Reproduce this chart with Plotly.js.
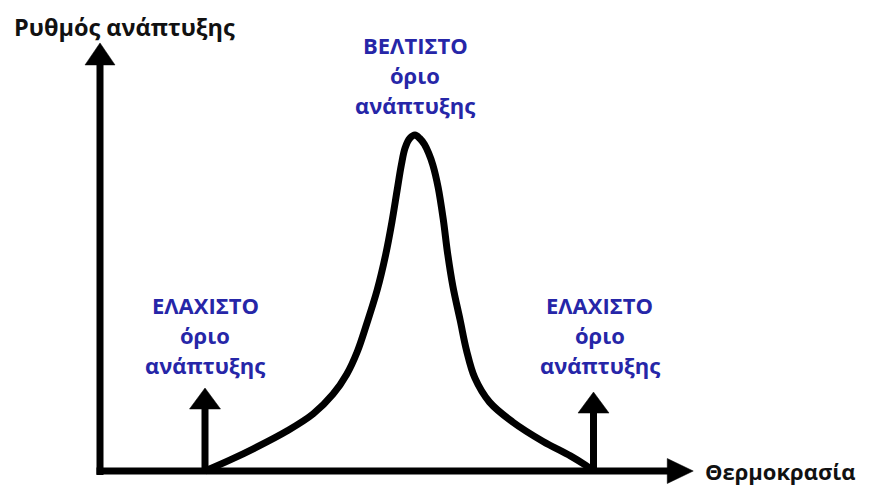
<!DOCTYPE html>
<html>
<head>
<meta charset="utf-8">
<script src="https://cdn.plot.ly/plotly-3.0.1.min.js"></script>
<style>html,body{margin:0;padding:0;background:#fff}</style>
</head>
<body>
<div id="chart" style="width:877px;height:485px"></div>
<script>
// Schematic growth-rate curve versus temperature
const temperature = [10, 12.4, 14.6, 17.8, 20.3, 22.2, 23.5, 24.5, 25.4, 26.4, 27.2, 27.8, 28.3, 28.7, 29.05, 29.5, 30,
                     30.45, 30.9, 31.3, 31.7, 32.2, 32.7, 33.1, 33.6, 34.3, 34.9, 35.7, 37.1, 39.3, 42.2, 44.8, 46.2, 47];
const growthRate  = [0, 3.3, 6.6, 11.9, 17.0, 22.9, 28.8, 35.5, 43.8, 53.9, 64.3, 74.1, 83.6, 91.1, 96.1, 99.0, 100,
                     99.0, 97.2, 94.6, 91.1, 84.5, 74.7, 64.9, 55.1, 44.9, 36.0, 27.7, 20.5, 14.6, 8.8, 4.5, 1.8, 0];

// Cardinal temperatures: minimum, optimum, maximum
const limitTemps  = [10, 30, 47];
const limitTitles = ['ΕΛΑΧΙΣΤΟ', 'ΒΕΛΤΙΣΤΟ', 'ΕΛΑΧΙΣΤΟ'];
const limitSub    = ['όριο', 'ανάπτυξης'];

const xTitle = 'Θερμοκρασία';
const yTitle = 'Ρυθμός ανάπτυξης';

// axis extents (arrow tips) in data units
const xAxisTip = 56.5;
const yAxisTip = 127.4;
// arrow tips above the minimum and maximum limits
const limitArrowTips = [24.7, null, 23.5];

// ---- layout scale (pixels per data unit, origin position) ----
const W = 877, H = 485;
const originPx = [100, 471];
const pxX = 10.5, pxY = 3.36;
const xRange = [-originPx[0] / pxX, (W - originPx[0]) / pxX];
const yRange = [(originPx[1] - H) / pxY, originPx[1] / pxY];

const BLACK = '#000000';
const BLUE = '#2626a8';
const LW = 7;

function shaft(x0, y0, x1, y1) {
  return {x: [x0, x1], y: [y0, y1], mode: 'lines', type: 'scatter',
          line: {color: BLACK, width: LW}, hoverinfo: 'skip'};
}
// filled triangular arrowhead; length and width given in pixels
function head(tx, ty, dir, lenPx, widPx) {
  let xs, ys;
  if (dir === 'up') {
    const by = ty - lenPx / pxY, hw = widPx / 2 / pxX;
    xs = [tx - hw, tx + hw, tx, tx - hw]; ys = [by, by, ty, by];
  } else {
    const bx = tx - lenPx / pxX, hw = widPx / 2 / pxY;
    xs = [bx, bx, tx, bx]; ys = [ty - hw, ty + hw, ty, ty - hw];
  }
  return {x: xs, y: ys, mode: 'lines', type: 'scatter', fill: 'toself',
          fillcolor: BLACK, line: {color: BLACK, width: 0.5}, hoverinfo: 'skip'};
}

const traces = [];
// axes
traces.push(shaft(0, -4 / pxY, 0, yAxisTip - 20 / pxY));
traces.push(head(0, yAxisTip, 'up', 22, 30));
traces.push(shaft(-3.5 / pxX, 0, xAxisTip - 24 / pxX, 0));
traces.push(head(xAxisTip, 0, 'right', 26, 25));
// arrows at the minimum and maximum limits
[0, 2].forEach(i => {
  traces.push(shaft(limitTemps[i], 0, limitTemps[i], limitArrowTips[i] - 18 / pxY));
  traces.push(head(limitTemps[i], limitArrowTips[i], 'up', 21, 31));
});
// growth curve
traces.push({x: temperature, y: growthRate, mode: 'lines', type: 'scatter',
             line: {color: BLACK, width: LW, shape: 'spline', smoothing: 1},
             hoverinfo: 'skip'});

const annotations = [];
const labelFont = {family: 'Open Sans, Noto Sans, sans-serif', size: 22, color: BLUE};
function label(x, yTop, lines) {
  lines.forEach((t, k) => {
    annotations.push({x: x, y: yTop - k * 30 / pxY, xref: 'x', yref: 'y',
                      text: '<b>' + t + '</b>', showarrow: false,
                      xanchor: 'center', yanchor: 'middle', font: labelFont});
  });
}
label(limitTemps[0], (originPx[1] - 305) / pxY, [limitTitles[0]].concat(limitSub));
label(limitTemps[1], (originPx[1] - 45) / pxY, [limitTitles[1]].concat(limitSub));
label(limitTemps[2] + 0.6, (originPx[1] - 305) / pxY, [limitTitles[2]].concat(limitSub));

const axisFont = {family: 'Open Sans, Noto Sans, sans-serif', size: 23.5, color: '#111111'};
annotations.push({x: 12 / W, y: 1 - 27 / H, xref: 'paper', yref: 'paper',
                  text: '<b>' + yTitle + '</b>', showarrow: false,
                  xanchor: 'left', yanchor: 'middle', font: axisFont});
annotations.push({x: 704 / W, y: 1 - 471 / H, xref: 'paper', yref: 'paper',
                  text: '<b>' + xTitle + '</b>', showarrow: false,
                  xanchor: 'left', yanchor: 'middle', borderpad: 0,
                  font: Object.assign({}, axisFont, {size: 22})});

const layout = {
  width: W, height: H,
  margin: {l: 0, r: 0, t: 0, b: 0, pad: 0},
  paper_bgcolor: '#ffffff', plot_bgcolor: '#ffffff',
  showlegend: false,
  xaxis: {range: xRange, visible: false, fixedrange: true},
  yaxis: {range: yRange, visible: false, fixedrange: true},
  annotations: annotations
};

Plotly.newPlot('chart', traces, layout, {displayModeBar: false, staticPlot: true});
</script>
</body>
</html>
